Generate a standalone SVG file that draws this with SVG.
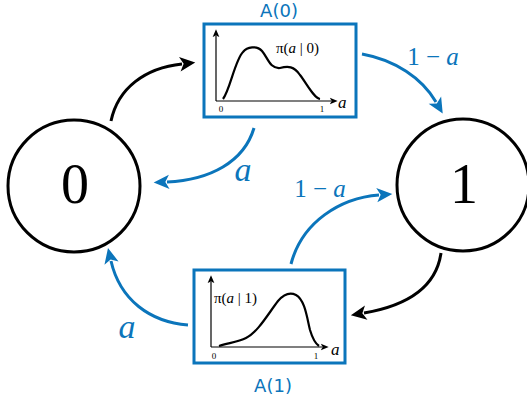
<svg xmlns="http://www.w3.org/2000/svg" width="527" height="402" viewBox="0 0 527 402">
<style>
.state{fill:#fff;stroke:#000;stroke-width:3}
.slabel{font-family:"Liberation Serif",serif;font-size:56px;fill:#000;text-anchor:middle}
.box{fill:#fff;stroke:#0b75bb;stroke-width:3}
.blabel{font-family:"DejaVu Sans","Liberation Sans",sans-serif;font-size:18px;fill:#0b75bb;text-anchor:middle}
.axis{fill:none;stroke:#000;stroke-width:1.2}
.curve{fill:none;stroke:#000;stroke-width:2.2}
.tick{font-family:"Liberation Serif",serif;font-size:9px;fill:#000;text-anchor:middle}
.axl{font-family:"Liberation Serif",serif;font-size:17px;font-style:italic;fill:#000}
.pi{font-family:"Liberation Serif",serif;font-size:15px;fill:#000}
.cb{fill:none;stroke:#0b75bb;stroke-width:3}
.ck{fill:none;stroke:#000;stroke-width:3}
.elab{font-family:"Liberation Serif",serif;fill:#0b75bb;text-anchor:middle}
</style>
<defs>
<marker id="ab" markerUnits="userSpaceOnUse" markerWidth="20" markerHeight="20" viewBox="-2 -8 18 16" refX="2" refY="0" orient="auto">
<path d="M0,-6.5 L14,0 L0,6.5 L3.5,0 Z" fill="#0b75bb"/>
</marker>
<marker id="ak" markerUnits="userSpaceOnUse" markerWidth="20" markerHeight="20" viewBox="-2 -8 18 16" refX="2" refY="0" orient="auto">
<path d="M0,-6.5 L14,0 L0,6.5 L3.5,0 Z" fill="#000"/>
</marker>
<marker id="sa" markerUnits="userSpaceOnUse" markerWidth="10" markerHeight="10" viewBox="-1 -4 9 8" refX="1" refY="0" orient="auto">
<path d="M0,-3 L7,0 L0,3 L1.5,0 Z" fill="#000"/>
</marker>
</defs>

<g id="connectors">
<path class="ck" d="M111,121 C118,88 145,68 182,64" marker-end="url(#ak)"/>
<path class="cb" d="M254,128 C244,162 210,180 167,182" marker-end="url(#ab)"/>
<path class="cb" d="M362,54 C395,60 422,78 436,102" marker-end="url(#ab)"/>
<path class="ck" d="M441,253 C436,288 405,306 364,313" marker-end="url(#ak)"/>
<path class="cb" d="M291,264 C302,222 340,198 379,195" marker-end="url(#ab)"/>
<path class="cb" d="M188,325 C150,322 120,300 111,261" marker-end="url(#ab)"/>
<text class="elab" x="243" y="181" font-size="34" font-style="italic">a</text>
<text class="elab" x="433" y="65" font-size="25">1 − <tspan font-style="italic">a</tspan></text>
<text class="elab" x="320" y="197" font-size="25">1 − <tspan font-style="italic">a</tspan></text>
<text class="elab" x="127" y="338" font-size="34" font-style="italic">a</text>
</g>

<g id="state0">
<circle class="state" cx="74" cy="186" r="66"/>
<text class="slabel" x="75" y="203">0</text>
</g>

<g id="state1">
<circle class="state" cx="463" cy="185" r="66"/>
<text class="slabel" x="464" y="203">1</text>
</g>

<g id="A0">
<rect class="box" x="204" y="24" width="152" height="93"/>
<text class="blabel" x="279" y="17">A(0)</text>
<path class="axis" d="M216,101 L216,36" marker-end="url(#sa)"/>
<path class="axis" d="M216,101 L331,101" marker-end="url(#sa)"/>
<path class="curve" d="M223,99 C230,90 235,60 243,52 C247,47 257,45 262,51 C268,58 270,69 280,68 C288,66 294,66 300,75 C307,84 314,98 320,99"/>
<text class="tick" x="221" y="112">0</text>
<text class="tick" x="322" y="112">1</text>
<text class="axl" x="338" y="108">a</text>
<text class="pi" x="276" y="53">π(<tspan font-style="italic">a</tspan> | 0)</text>
</g>

<g id="A1">
<rect class="box" x="194" y="270" width="151" height="93"/>
<text class="blabel" x="273" y="392">A(1)</text>
<path class="axis" d="M211,347 L211,282" marker-end="url(#sa)"/>
<path class="axis" d="M211,347 L322,347" marker-end="url(#sa)"/>
<path class="curve" d="M219,346 C228,343 238,342 246,338 C258,332 268,314 278,301 C284,294 290,292 296,295 C305,300 307,318 310,330 C313,340 316,344 319,346"/>
<text class="tick" x="214" y="359">0</text>
<text class="tick" x="316" y="359">1</text>
<text class="axl" x="331" y="355">a</text>
<text class="pi" x="214" y="303">π(<tspan font-style="italic">a</tspan> | 1)</text>
</g>
</svg>
